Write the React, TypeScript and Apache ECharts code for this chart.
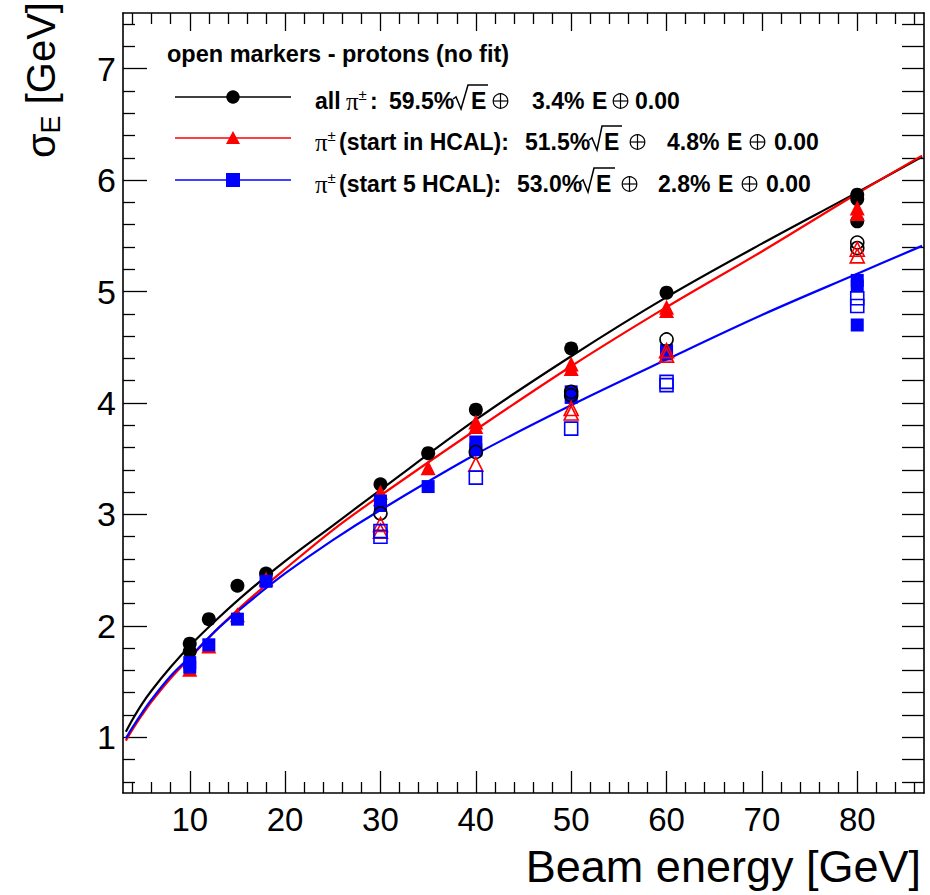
import React, { useEffect, useRef } from 'react';
import * as echarts from 'echarts';

// ---- fit curves ----
const fitEnergy = [3.3, 4, 5, 6, 8, 10, 13, 16, 20, 25, 30, 40, 50, 60, 70, 80, 86.8];
const fitAll = [1.05, 1.16, 1.30, 1.42, 1.63, 1.82, 2.07, 2.30, 2.58, 2.90, 3.22, 3.85, 4.42, 4.95, 5.43, 5.89, 6.21];
const fitHcal = [0.97, 1.07, 1.20, 1.32, 1.53, 1.71, 1.98, 2.22, 2.51, 2.86, 3.17, 3.76, 4.33, 4.86, 5.36, 5.88, 6.22];
const fitHcal5 = [0.99, 1.09, 1.22, 1.34, 1.55, 1.72, 1.98, 2.20, 2.47, 2.77, 3.04, 3.54, 3.98, 4.39, 4.79, 5.16, 5.41];

// ---- pions (filled markers) ----
const allPiE = [10, 10, 12, 15, 18, 30, 35, 40, 50, 60, 80, 80, 80];
const allPiS = [1.84, 1.77, 2.06, 2.36, 2.47, 3.27, 3.55, 3.94, 4.49, 4.99, 5.87, 5.83, 5.63];
const hcalPiE = [10, 12, 15, 18, 30, 30, 35, 40, 40, 50, 50, 60, 60, 80, 80];
const hcalPiS = [1.61, 1.82, 2.10, 2.42, 3.20, 3.14, 3.42, 3.83, 3.79, 4.35, 4.31, 4.86, 4.83, 5.75, 5.70];
const hcal5PiE = [10, 10, 12, 15, 18, 30, 30, 35, 40, 40, 50, 50, 60, 60, 80, 80, 80];
const hcal5PiS = [1.67, 1.63, 1.83, 2.06, 2.40, 3.12, 3.08, 3.25, 3.65, 3.58, 4.10, 4.05, 4.47, 4.44, 5.10, 5.05, 4.70];

// ---- protons (open markers) ----
const allPE = [30, 40, 50, 50, 60, 80, 80];
const allPS = [3.01, 3.56, 4.10, 4.07, 4.57, 5.44, 5.39];
const hcalPE = [30, 30, 40, 50, 50, 60, 60, 80, 80];
const hcalPS = [2.91, 2.85, 3.45, 3.95, 3.91, 4.47, 4.43, 5.38, 5.32];
const hcal5PE = [30, 30, 40, 50, 60, 60, 80, 80];
const hcal5PS = [2.85, 2.80, 3.33, 3.77, 4.19, 4.16, 4.94, 4.87];

// ---- ticks ----
const xMajorTicks = [10, 20, 30, 40, 50, 60, 70, 80];
const xMinorTicks = [4, 6, 8, 12, 14, 16, 18, 22, 24, 26, 28, 32, 34, 36, 38, 42, 44, 46, 48, 52, 54, 56, 58, 62, 64, 66, 68, 72, 74, 76, 78, 82, 84, 86];
const yMajorTicks = [1, 2, 3, 4, 5, 6, 7];
const yAllTicks: number[] = [];
for (let i = 3; i <= 37; i++) yAllTicks.push(Math.round(i * 2) / 10);
const yMinorTicks = yAllTicks.filter((v) => Math.abs(v - Math.round(v)) > 1e-6);

const SANS = "'Liberation Sans', Arial, Helvetica, sans-serif";
const SERIF = "'Liberation Serif', 'DejaVu Serif', serif";

const pairs = (xs: number[], ys: number[]) => xs.map((x, i) => [x, ys[i]]);

export default function App() {
  const ref = useRef<HTMLDivElement>(null);
  useEffect(() => {
    const chart = echarts.init(ref.current!, null, { renderer: 'svg' });
    const tickStyle = { color: '#000', width: 1.3 };
    const axisLineOn = { show: true, onZero: false, lineStyle: { color: '#000', width: 1.6 } };
    const baseX = (extra: any) => ({
      type: 'value', min: 3, max: 87, splitLine: { show: false },
      axisLabel: { show: false }, axisTick: { show: false }, axisLine: { show: false, onZero: false }, ...extra,
    });
    const baseY = (extra: any) => ({
      type: 'value', min: 0.5, max: 7.5, splitLine: { show: false },
      axisLabel: { show: false }, axisTick: { show: false }, axisLine: { show: false, onZero: false }, ...extra,
    });

    const line = (x: number[], y: number[], color: string) => ({
      type: 'line', data: pairs(x, y), smooth: 0.35, showSymbol: false, symbol: 'none',
      lineStyle: { color, width: 2.2 }, silent: true, z: 2,
    });
    const filled = (x: number[], y: number[], color: string, symbol: string, size: number) => ({
      type: 'scatter', data: pairs(x, y), symbol, symbolSize: size,
      itemStyle: { color, opacity: 1 }, silent: true, z: 3,
    });
    const open = (x: number[], y: number[], color: string, symbol: string, size: number) => ({
      type: 'scatter', data: pairs(x, y), symbol, symbolSize: size,
      itemStyle: { color: 'rgba(0,0,0,0)', borderColor: color, borderWidth: 1.6, opacity: 1 }, silent: true, z: 4,
    });

    // legend graphics
    const g: any[] = [];
    const T = (text: string, x: number, y: number, extra: any = {}) =>
      g.push({
        type: 'text', x, y, silent: true,
        style: { text, fill: '#000', fontFamily: SANS, fontSize: 23, fontWeight: 'bold', align: 'left', verticalAlign: 'middle', ...extra },
      });
    const oplus = (cx: number, cy: number) => {
      g.push({ type: 'circle', shape: { cx, cy, r: 7.3 }, style: { fill: 'none', stroke: '#000', lineWidth: 1.2 }, silent: true });
      g.push({ type: 'line', shape: { x1: cx - 7.3, y1: cy, x2: cx + 7.3, y2: cy }, style: { stroke: '#000', lineWidth: 1.2 }, silent: true });
      g.push({ type: 'line', shape: { x1: cx, y1: cy - 7.3, x2: cx, y2: cy + 7.3 }, style: { stroke: '#000', lineWidth: 1.2 }, silent: true });
    };
    const radical = (pts: number[][]) =>
      g.push({ type: 'polyline', shape: { points: pts }, style: { fill: 'none', stroke: '#000', lineWidth: 1.5 }, silent: true });
    const piPm = (x: number, mid: number) => {
      T('π', x, mid, { fontFamily: SERIF, fontWeight: 'normal', fontSize: 25 });
      T('±', x + 12.5, mid - 7, { fontFamily: SANS, fontWeight: 'normal', fontSize: 15 });
    };

    T('open markers - protons (no fit)', 167, 54, { fontSize: 23.5 });

    const rows = [
      { y: 97, color: '#000000', kind: 'circle' },
      { y: 138, color: '#ff0000', kind: 'triangle' },
      { y: 180, color: '#0000ff', kind: 'rect' },
    ];
    rows.forEach((r) => {
      g.push({ type: 'line', shape: { x1: 175, y1: r.y, x2: 291, y2: r.y }, style: { stroke: r.color, lineWidth: 1.4 }, silent: true });
      if (r.kind === 'circle') g.push({ type: 'circle', shape: { cx: 233, cy: r.y, r: 6.7 }, style: { fill: r.color }, silent: true });
      if (r.kind === 'triangle') g.push({ type: 'polygon', shape: { points: [[233, r.y - 7], [240, r.y + 6], [226, r.y + 6]] }, style: { fill: r.color }, silent: true });
      if (r.kind === 'rect') g.push({ type: 'rect', shape: { x: 226, y: r.y - 7, width: 14, height: 14 }, style: { fill: r.color }, silent: true });
    });

    // row 1
    T('all', 315, 101);
    piPm(346, 101);
    T(':', 370, 101);
    T('59.5%', 389, 101);
    radical([[453, 99], [456, 97], [461, 109], [468, 85], [488, 85]]);
    T('E', 471, 101);
    oplus(500.5, 101);
    T('3.4%', 532, 101);
    T('E', 592, 101);
    oplus(620.5, 101);
    T('0.00', 635, 101);

    // row 2
    piPm(315, 142);
    T('(start in HCAL):', 339, 142);
    T('51.5%', 525, 142);
    radical([[589, 140], [592, 138], [597, 150], [602, 126], [622, 126]]);
    T('E', 604, 142);
    oplus(637.5, 142);
    T('4.8%', 667, 142);
    T('E', 727, 142);
    oplus(757.5, 142);
    T('0.00', 774, 142);

    // row 3
    piPm(315, 184);
    T('(start 5 HCAL):', 339, 184);
    T('53.0%', 517, 184);
    radical([[580, 182], [583, 180], [588, 192], [594, 168], [615, 168]]);
    T('E', 596, 184);
    oplus(629.5, 184);
    T('2.8%', 658, 184);
    T('E', 718, 184);
    oplus(749.5, 184);
    T('0.00', 766, 184);

    // axis titles
    g.push({
      type: 'text', x: 921, y: 866, silent: true,
      style: { text: 'Beam energy [GeV]', fill: '#000', fontFamily: SANS, fontSize: 45, align: 'right', verticalAlign: 'middle' },
    });
    g.push({
      type: 'text', x: 41, y: 2, rotation: Math.PI / 2, silent: true,
      style: {
        text: '{a|σ}{b|E}{a| [GeV]}', align: 'right', verticalAlign: 'middle',
        rich: {
          a: { fontFamily: SANS, fontSize: 40, lineHeight: 46, fill: '#000', color: '#000', verticalAlign: 'middle' },
          b: { fontFamily: SANS, fontSize: 27, lineHeight: 30, fill: '#000', color: '#000', verticalAlign: 'bottom' },
        },
      },
    });

    const option: any = {
      animation: false,
      backgroundColor: '#ffffff',
      grid: { left: 123, right: 6, top: 13, bottom: 102, containLabel: false },
      xAxis: [
        baseX({
          position: 'bottom', axisLine: axisLineOn,
          axisTick: { show: true, inside: true, length: 22, customValues: xMajorTicks, lineStyle: tickStyle },
          axisLabel: { show: true, customValues: xMajorTicks, margin: 10, fontSize: 33, color: '#000', fontFamily: SANS },
        }),
        baseX({ position: 'bottom', axisTick: { show: true, inside: true, length: 11, customValues: xMinorTicks, lineStyle: tickStyle } }),
        baseX({ position: 'top', axisLine: axisLineOn, axisTick: { show: true, inside: true, length: 18, customValues: xMajorTicks, lineStyle: tickStyle } }),
        baseX({ position: 'top', axisTick: { show: true, inside: true, length: 11, customValues: xMinorTicks, lineStyle: tickStyle } }),
      ],
      yAxis: [
        baseY({
          position: 'left', axisLine: axisLineOn,
          axisTick: { show: true, inside: true, length: 24, customValues: yMajorTicks, lineStyle: tickStyle },
          axisLabel: { show: true, customValues: yMajorTicks, margin: 7, fontSize: 34, color: '#000', fontFamily: SANS },
        }),
        baseY({ position: 'left', axisTick: { show: true, inside: true, length: 12, customValues: yMinorTicks, lineStyle: tickStyle } }),
        baseY({ position: 'right', axisLine: axisLineOn, axisTick: { show: true, inside: true, length: 22, customValues: yAllTicks, lineStyle: tickStyle } }),
      ],
      series: [
        line(fitEnergy, fitAll, '#000000'),
        line(fitEnergy, fitHcal, '#ff0000'),
        line(fitEnergy, fitHcal5, '#0000ff'),
        filled(allPiE, allPiS, '#000000', 'circle', 14),
        filled(hcalPiE, hcalPiS, '#ff0000', 'triangle', 15),
        filled(hcal5PiE, hcal5PiS, '#0000ff', 'rect', 13),
        open(allPE, allPS, '#000000', 'circle', 13),
        open(hcalPE, hcalPS, '#ff0000', 'triangle', 14),
        open(hcal5PE, hcal5PS, '#0000ff', 'rect', 13),
      ],
      graphic: g,
    };
    chart.setOption(option);
    return () => chart.dispose();
  }, []);
  return <div ref={ref} style={{ position: 'absolute', left: 0, top: 0, width: 930, height: 895 }} />;
}
